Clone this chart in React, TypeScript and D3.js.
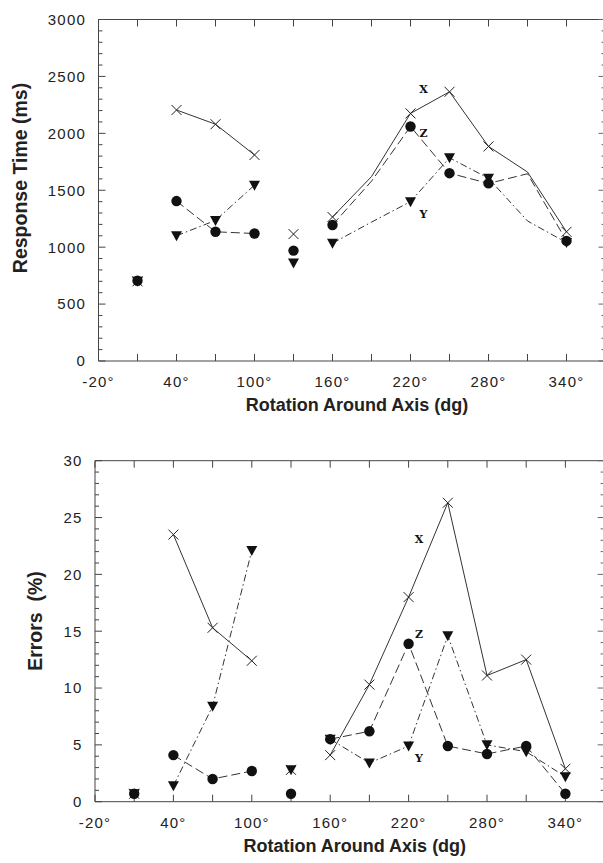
import React from "react";
import * as d3 from "d3";

// Rotation angles (degrees) at which each condition was measured
const ANGLES = [10, 40, 70, 100, 130, 160, 190, 220, 250, 280, 310, 340];

// Response time (ms) per rotation axis
const RT_X = [700, 2205, 2080, 1810, 1115, 1265, 1620, 2175, 2365, 1885, 1660, 1135];
const RT_Y = [700, 1100, 1235, 1545, 860, 1035, 1220, 1400, 1785, 1605, 1230, 1040];
const RT_Z = [705, 1405, 1135, 1120, 970, 1195, 1580, 2060, 1650, 1560, 1645, 1055];

// Error rate (%) per rotation axis
const ERR_X = [0.7, 23.5, 15.3, 12.4, 2.8, 4.1, 10.3, 18.0, 26.3, 11.1, 12.5, 2.9];
const ERR_Y = [0.7, 1.4, 8.4, 22.1, 2.8, 5.5, 3.4, 4.9, 14.6, 5.0, 4.4, 2.2];
const ERR_Z = [0.7, 4.1, 2.0, 2.7, 0.7, 5.5, 6.2, 13.9, 4.9, 4.2, 4.9, 0.7];

// Connected runs of angles (other angles are drawn as lone markers)
const RUNS = [
  [40, 70, 100],
  [160, 190, 220, 250, 280, 310, 340],
];

// Angles without a marker in the response-time panel
const RT_UNMARKED = [190, 310];

const X_DOMAIN = [-20, 370];
const X_LABEL_TICKS = [-20, 40, 100, 160, 220, 280, 340];
const X_MINOR_TICKS = d3.range(-20, 371, 30);

const RT_TICKS = [0, 500, 1000, 1500, 2000, 2500, 3000];
const ERR_TICKS = [0, 5, 10, 15, 20, 25, 30];

const INK = "#222";
const LINE = "#333";
const SANS = "'Liberation Sans', Arial, Helvetica, sans-serif";

type Series = { key: string; values: number[]; marker: "cross" | "tri" | "dot"; dash: string | null };

function Marker({ kind, x, y }: { kind: string; x: number; y: number }) {
  if (kind === "cross") {
    const s = 5;
    return (
      <path
        d={`M${x - s},${y - s}L${x + s},${y + s}M${x - s},${y + s}L${x + s},${y - s}`}
        stroke={INK}
        strokeWidth={1}
        fill="none"
      />
    );
  }
  if (kind === "tri") {
    const w = 5.5;
    return <path d={`M${x - w},${y - 4.5}L${x + w},${y - 4.5}L${x},${y + 5.5}Z`} fill="#111" />;
  }
  return <circle cx={x} cy={y} r={5.2} fill="#111" />;
}

function Panel(props: {
  top: number;
  bottom: number;
  left: number;
  right: number;
  yMax: number;
  yMajor: number[];
  yMinorStep: number;
  series: Series[];
  unmarked: number[];
  yTitle: string;
  yTitleX: number;
  yTitleY: number;
  labels: { text: string; angle: number; value: number }[];
}) {
  const { top, bottom, left, right, yMax, yMajor, yMinorStep, series, unmarked } = props;
  const x = d3.scaleLinear().domain(X_DOMAIN).range([left, right]);
  const y = d3.scaleLinear().domain([0, yMax]).range([bottom, top]);
  const yMinor = d3.range(0, yMax + 1e-9, yMinorStep);
  const tickLen = 7;
  const minorLen = 4;

  const line = d3
    .line<[number, number]>()
    .x((d) => x(d[0]))
    .y((d) => y(d[1]));

  return (
    <g>
      {/* frame: left, top and bottom edges */}
      <path
        d={`M${right + 2},${top}L${left},${top}L${left},${bottom}L${right + 2},${bottom}`}
        fill="none"
        stroke="#444"
        strokeWidth={1}
      />
      {/* x ticks, top and bottom, pointing inward */}
      {X_MINOR_TICKS.map((t) => (
        <g key={`xt${t}`}>
          <line x1={x(t)} x2={x(t)} y1={bottom} y2={bottom - tickLen} stroke="#444" />
          <line x1={x(t)} x2={x(t)} y1={top} y2={top + tickLen} stroke="#444" />
        </g>
      ))}
      {/* y ticks, left and right */}
      {yMinor.map((t) => {
        const major = yMajor.includes(Math.round(t * 1000) / 1000);
        const len = major ? tickLen : minorLen;
        return (
          <g key={`yt${t}`}>
            <line x1={left} x2={left + len} y1={y(t)} y2={y(t)} stroke="#444" />
            <line x1={right} x2={right - len} y1={y(t)} y2={y(t)} stroke="#666" />
          </g>
        );
      })}
      {/* tick labels */}
      {X_LABEL_TICKS.map((t) => (
        <text
          key={`xl${t}`}
          x={x(t)}
          y={bottom + 26}
          textAnchor="middle"
          fontFamily={SANS}
          fontSize={15}
          letterSpacing={1.2}
          fill={INK}
        >
          {`${t}°`}
        </text>
      ))}
      {yMajor.map((t) => (
        <text
          key={`yl${t}`}
          x={left - 12.5}
          y={y(t)}
          dy="0.36em"
          textAnchor="end"
          fontFamily={SANS}
          fontSize={15}
          letterSpacing={1.2}
          fill={INK}
        >
          {t}
        </text>
      ))}
      {/* axis titles */}
      <text
        x={(left + right) / 2 + 5}
        y={bottom + 50}
        textAnchor="middle"
        fontFamily={SANS}
        fontWeight="bold"
        fontSize={18}
        fill={INK}
      >
        Rotation Around Axis (dg)
      </text>
      <text
        transform={`translate(${props.yTitleX},${props.yTitleY}) rotate(-90)`}
        textAnchor="middle"
        dy="0.35em"
        fontFamily={SANS}
        fontWeight="bold"
        fontSize={19.5}
        fill={INK}
        style={{ whiteSpace: "pre" }}
      >
        {props.yTitle}
      </text>
      {/* series lines */}
      {series.map((s) =>
        RUNS.map((run, i) => {
          const pts = run.map((a) => [a, s.values[ANGLES.indexOf(a)]] as [number, number]);
          return (
            <path
              key={`${s.key}-run${i}`}
              d={line(pts) || ""}
              fill="none"
              stroke={LINE}
              strokeWidth={1}
              strokeDasharray={s.dash || undefined}
            />
          );
        })
      )}
      {/* markers */}
      {series.map((s) =>
        ANGLES.filter((a) => !unmarked.includes(a)).map((a) => (
          <Marker key={`${s.key}-m${a}`} kind={s.marker} x={x(a)} y={y(s.values[ANGLES.indexOf(a)])} />
        ))
      )}
      {/* axis letters beside their curves */}
      {props.labels.map((l) => (
        <text
          key={`lab${l.text}`}
          x={x(l.angle)}
          y={y(l.value)}
          textAnchor="middle"
          dy="0.35em"
          fontFamily="'DejaVu Serif', 'Liberation Serif', serif"
          fontWeight="bold"
          fontSize={11}
          fill="#111"
        >
          {l.text}
        </text>
      ))}
    </g>
  );
}

export default function App() {
  const rtSeries: Series[] = [
    { key: "x", values: RT_X, marker: "cross", dash: null },
    { key: "z", values: RT_Z, marker: "dot", dash: "9,4" },
    { key: "y", values: RT_Y, marker: "tri", dash: "7,3,1.5,3" },
  ];
  const errSeries: Series[] = [
    { key: "x", values: ERR_X, marker: "cross", dash: null },
    { key: "z", values: ERR_Z, marker: "dot", dash: "9,4" },
    { key: "y", values: ERR_Y, marker: "tri", dash: "7,3,1.5,3" },
  ];

  return (
    <svg
      width={603}
      height={863}
      viewBox="0 0 603 863"
      style={{ position: "absolute", left: 0, top: 0, background: "#fff" }}
    >
      <rect width={603} height={863} fill="#fff" />
      <Panel
        top={19.5}
        bottom={361}
        left={98.5}
        right={605.5}
        yMax={3000}
        yMajor={RT_TICKS}
        yMinorStep={100}
        series={rtSeries}
        unmarked={RT_UNMARKED}
        yTitle="Response Time (ms)"
        yTitleX={20}
        yTitleY={178}
        labels={[
          { text: "X", angle: 230, value: 2385 },
          { text: "Z", angle: 230, value: 2000 },
          { text: "Y", angle: 230, value: 1290 },
        ]}
      />
      <Panel
        top={460.7}
        bottom={801.7}
        left={95}
        right={604.6}
        yMax={30}
        yMajor={ERR_TICKS}
        yMinorStep={1}
        series={errSeries}
        unmarked={[]}
        yTitle="Errors  (%)"
        yTitleX={35}
        yTitleY={621}
        labels={[
          { text: "X", angle: 228, value: 23.1 },
          { text: "Z", angle: 228, value: 14.7 },
          { text: "Y", angle: 228, value: 3.8 },
        ]}
      />
    </svg>
  );
}
